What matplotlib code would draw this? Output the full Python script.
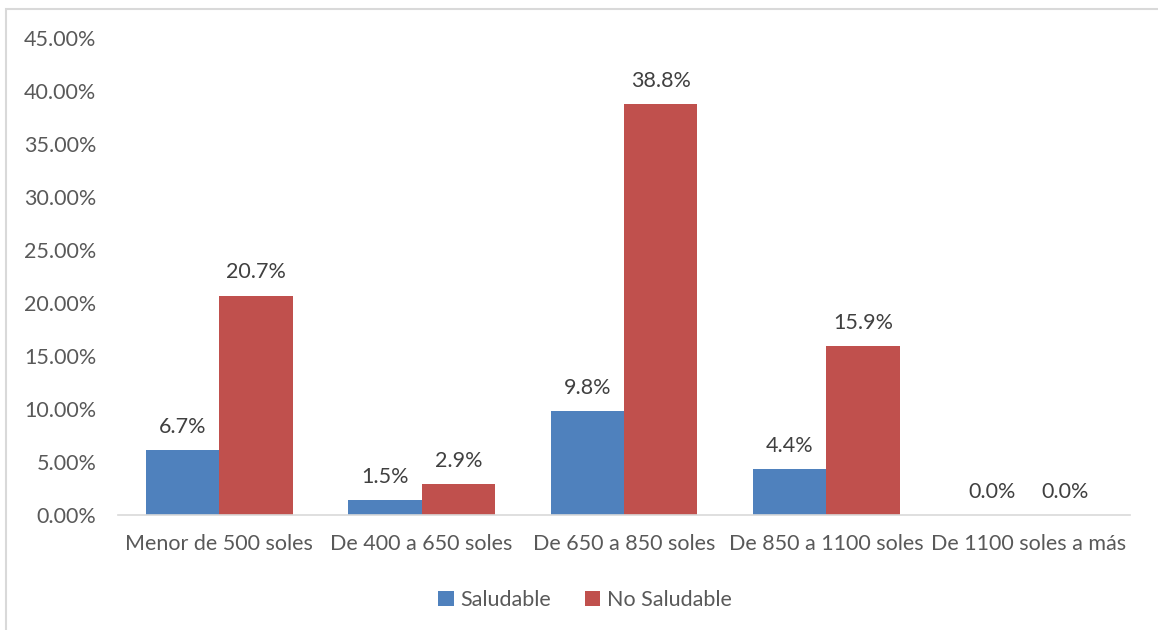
import numpy as np
import matplotlib.pyplot as plt

plt.rcParams['font.family'] = ['Lato', 'DejaVu Sans']

categorias = ["Menor de 500 soles", "De 400 a 650 soles", "De 650 a 850 soles",
              "De 850 a 1100 soles", "De 1100 soles a más"]
saludable = [6.1, 1.4, 9.8, 4.3, 0.0]
no_saludable = [20.7, 2.9, 38.8, 15.9, 0.0]
etiquetas_saludable = ["6.7%", "1.5%", "9.8%", "4.4%", "0.0%"]
etiquetas_no_saludable = ["20.7%", "2.9%", "38.8%", "15.9%", "0.0%"]
yticks = np.arange(0, 50, 5)

azul = "#4F81BD"
rojo = "#C0504D"
gris = "#595959"

fig = plt.figure(figsize=(11.58, 6.30), dpi=100)
# marco gris claro del área del gráfico
fig.patches.append(plt.Rectangle((6 / 1158, -0.1), 1.2, 1.1 - 9.5 / 630, transform=fig.transFigure,
                                 fill=False, edgecolor="#D9D9D9", linewidth=1.5))
ax = fig.add_axes([118 / 1158, 1 - 515 / 630, (1130 - 118) / 1158, (515 - 38) / 630])

x = np.arange(len(categorias))
w = 0.363
b1 = ax.bar(x - w / 2, saludable, w, color=azul, label="Saludable")
b2 = ax.bar(x + w / 2, no_saludable, w, color=rojo, label="No Saludable")

for barras, textos in ((b1, etiquetas_saludable), (b2, etiquetas_no_saludable)):
    for b, t in zip(barras, textos):
        ax.annotate(t, (b.get_x() + b.get_width() / 2, b.get_height()),
                    xytext=(0, 9.5), textcoords="offset points", ha="center", va="bottom",
                    fontsize=15.5, color="#404040")

ax.set_xlim(-0.5, len(categorias) - 0.5)
ax.set_ylim(0, 45)
ax.set_yticks(yticks)
ax.set_yticklabels([f"{v:.2f}%" for v in yticks])
ax.set_xticks(x)
ax.set_xticklabels(categorias)
ax.tick_params(axis="both", length=0, labelsize=15.5, labelcolor=gris)
ax.tick_params(axis="y", pad=15.5)
ax.tick_params(axis="x", pad=14)
for s in ("top", "right", "left"):
    ax.spines[s].set_visible(False)
ax.spines["bottom"].set_color("#D9D9D9")
ax.spines["bottom"].set_linewidth(1.2)

fig.legend(handles=[b1, b2], loc="center", bbox_to_anchor=(585 / 1158, 1 - 600 / 630), ncol=2,
           frameon=False, fontsize=15.5, labelcolor=gris, handlelength=0.7, handleheight=0.7,
           handletextpad=0.3, columnspacing=1.6)

fig.savefig("out.png", dpi=100)
